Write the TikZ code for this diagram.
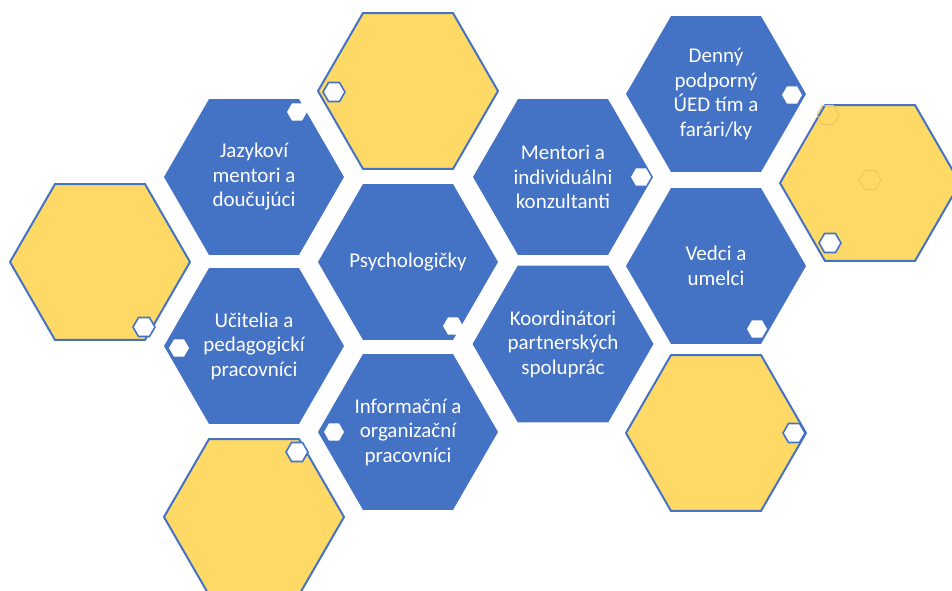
\documentclass[tikz,border=0pt]{standalone}
\usepackage{fontspec}
\setmainfont{Carlito}
\usetikzlibrary{shapes.geometric}

\definecolor{hexblue}{HTML}{4472C4}
\definecolor{hexyellow}{HTML}{FFD966}
\definecolor{hexfaint}{HTML}{EDC85E}

\begin{document}
\begin{tikzpicture}[x=1pt,y=-1pt,every text node part/.style={align=center}]

\tikzstyle{hex} = [regular polygon,regular polygon sides=6,minimum size=180pt,inner sep=0,outer sep=0]
\tikzstyle{bluehex} = [hex,fill=hexblue,text=white,font=\fontsize{21}{24.5}\selectfont]
\tikzstyle{yellowhex} = [hex,fill=hexyellow,draw=hexblue,line width=2pt]
\tikzstyle{dot} = [regular polygon,regular polygon sides=6,minimum size=20pt,inner sep=0,outer sep=0,fill=white]
\tikzstyle{ringdot} = [dot,draw=hexblue,line width=1.6pt,minimum size=22pt]
\tikzstyle{faintdot} = [regular polygon,regular polygon sides=6,minimum size=22pt,inner sep=0,draw=hexfaint,line width=1pt]

\useasboundingbox (0,0) rectangle (952,590);

% yellow cells
\node [yellowhex] (gold_top) at (408,91) {};
\node [yellowhex] (gold_left) at (100,262) {};
\node [yellowhex] (gold_right) at (870,183) {};
\node [yellowhex] (gold_low_right) at (716,433) {};
\node [yellowhex] (gold_bottom) at (254,517) {};

% blue cells
\node [bluehex] (jazyk) at (254,177) {Jazykoví\\mentori a\\doučujúci};
\node [bluehex] (ucitelia) at (254,346) {Učitelia a\\pedagogickí\\pracovníci};
\node [bluehex] (psych) at (408,262) {\makebox[0pt]{Psychologičky}};
\node [bluehex] (info) at (408,432) {Informační a\\organizační\\pracovníci};
\node [bluehex] (mentori) at (563,177) {Mentori a\\individuálni\\konzultanti};
\node [bluehex] (koord) at (563,344) {Koordinátori\\partnerských\\spoluprác};
\node [bluehex] (denny) at (716,94) {Denný\\podporný\\ÚED tím a\\farári/ky};
\node [bluehex] (vedci) at (716,266) {Vedci a\\umelci};

% small marks
\node [dot] (dot_jazyk) at (297,112) {};
\node [dot] (dot_ucitelia) at (179,348) {};
\node [dot] (dot_psych) at (453,326) {};
\node [dot] (dot_info) at (334,432) {};
\node [dot] (dot_mentori) at (641,177) {};
\node [dot] (dot_denny) at (792,95) {};
\node [dot] (dot_vedci) at (757,329) {};

\node [ringdot] (ring_top) at (334,92) {};
\node [ringdot] (ring_left) at (144,327) {};
\node [ringdot] (ring_right) at (830,243) {};
\node [ringdot] (ring_low_right) at (794,433) {};
\node [ringdot] (ring_bottom) at (297,452) {};

\node [faintdot] (faint_a) at (828,115) {};
\node [faintdot] (faint_b) at (870,180) {};
\end{tikzpicture}
\end{document}
